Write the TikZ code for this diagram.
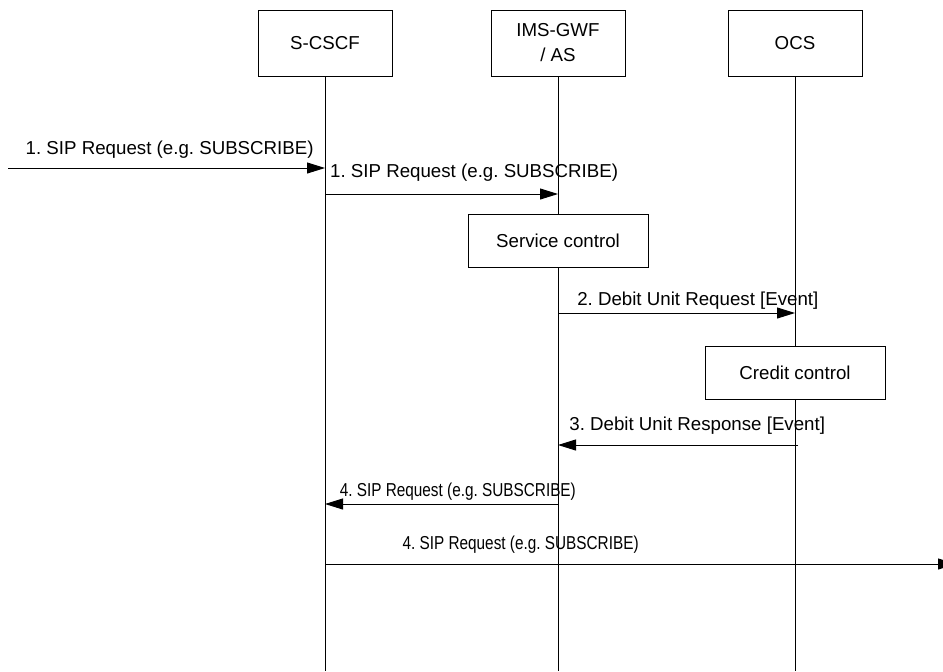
\documentclass[tikz,border=0pt]{standalone}
\usepackage{fontspec}
\setmainfont{Liberation Sans}
\usetikzlibrary{arrows.meta}
\frenchspacing

\begin{document}
\begin{tikzpicture}[x=0.5pt,y=-0.5pt,
  font=\fontsize{9.35}{12.5}\selectfont,
  entity/.style={draw,fill=white,line width=0.5pt,minimum width=67pt,minimum height=33pt,align=center,inner sep=1pt},
  proc/.style={draw,fill=white,line width=0.5pt,minimum width=90pt,minimum height=26.5pt,inner sep=1pt},
  life/.style={line width=0.5pt},
  msg/.style={line width=0.5pt,-{Triangle[length=9pt,width=5.5pt]}},
  lbl/.style={inner sep=0pt}]
  \useasboundingbox (0,0) rectangle (943,671);

  % Entities
  \node[entity] (scscf) at (325,43) {S-CSCF};
  \node[entity] (gwf) at (558,43) {IMS-GWF\\/ AS};
  \node[entity] (ocs) at (795,43) {OCS};

  % Processing boxes
  \node[proc] (svc) at (558,240.5) {Service control};
  \node[proc] (cc) at (795,372.5) {Credit control};

  % Lifelines
  \coordinate (scscfEnd) at (325,671);
  \coordinate (gwfEnd) at (558,671);
  \coordinate (ocsEnd) at (795,671);
  \draw[life] (scscf) -- (scscfEnd);
  \draw[life] (gwf) -- (svc);
  \draw[life] (svc) -- (gwfEnd);
  \draw[life] (ocs) -- (cc);
  \draw[life] (cc) -- (ocsEnd);

  % Message end points
  \coordinate (in1) at (8,168);
  \coordinate (s1) at (325,168);
  \coordinate (s2) at (325,194);
  \coordinate (g2) at (558,194);
  \coordinate (g3) at (558,313);
  \coordinate (o3) at (795,313);
  \coordinate (o4) at (798,445);
  \coordinate (g4) at (558,445);
  \coordinate (g5) at (558,504);
  \coordinate (s5) at (325,504);
  \coordinate (s6) at (325,564);
  \coordinate (out6) at (956,564);

  % Messages
  \draw[msg] (in1) -- (s1) node[lbl,pos=0.51,yshift=9pt] {1. SIP Request (e.g. SUBSCRIBE)};
  \draw[msg] (s2) -- (g2) node[lbl,pos=0.64,yshift=10.5pt] {1. SIP Request (e.g. SUBSCRIBE)};
  \draw[msg] (g3) -- (o3) node[lbl,pos=0.59,yshift=6pt] {2. Debit Unit Request [Event]};
  \draw[msg] (o4) -- (g4) node[lbl,pos=0.42,yshift=9.5pt] {3. Debit Unit Response [Event]};
  \draw[msg] (g5) -- (s5) node[lbl,pos=0.43,yshift=6pt] {\scalebox{0.82}[1]{4. SIP Request (e.g. SUBSCRIBE)}};
  \draw[msg] (s6) -- (out6) node[lbl,pos=0.31,yshift=9.5pt] {\scalebox{0.82}[1]{4. SIP Request (e.g. SUBSCRIBE)}};

\end{tikzpicture}
\end{document}
